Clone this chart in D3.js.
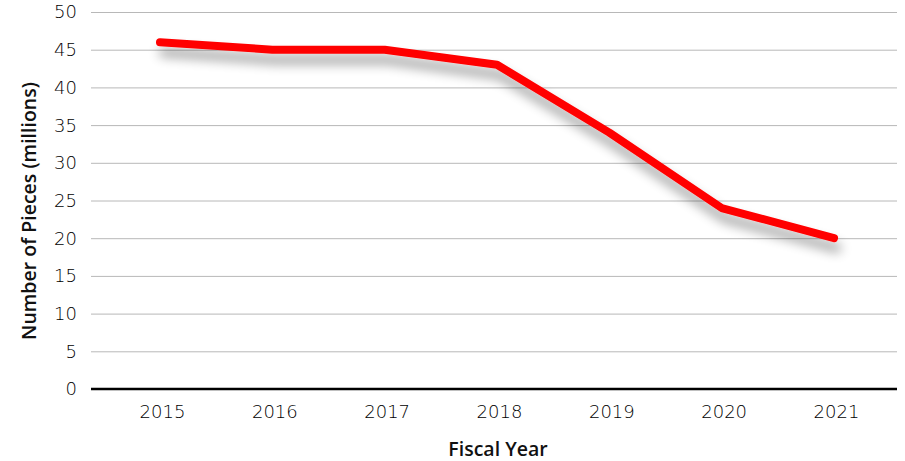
<!DOCTYPE html>
<html><head><meta charset="utf-8">
<script src="https://cdn.jsdelivr.net/npm/d3@7"></script>
<style>body{margin:0;background:#fff;} svg{display:block;}</style>
</head><body>
<svg id="c" width="905" height="461"></svg>
<script>
const years = ["2015","2016","2017","2018","2019","2020","2021"];
const pieces = [46, 45, 45, 43, 34, 24, 20];
const yTicks = [0,5,10,15,20,25,30,35,40,45,50];

const tickFont = "'DejaVu Sans', sans-serif";
const titleFont = "'Open Sans', sans-serif";

const svg = d3.select("#c");
const plotLeft = 91, plotRight = 897, plotTop = 12, plotBottom = 389;
const x = d3.scalePoint().domain(years).range([160, 834]);
const y = d3.scaleLinear().domain([0, 50]).range([plotBottom, plotTop]);

const defs = svg.append("defs");
const f = defs.append("filter").attr("id","sh").attr("x","-10%").attr("y","-30%").attr("width","130%").attr("height","200%");
f.append("feGaussianBlur").attr("in","SourceAlpha").attr("stdDeviation",6).attr("result","b");
f.append("feOffset").attr("in","b").attr("dx",3).attr("dy",10).attr("result","o");
f.append("feComponentTransfer").attr("in","o").attr("result","s").append("feFuncA").attr("type","linear").attr("slope",0.4);
const m = f.append("feMerge"); m.append("feMergeNode").attr("in","s"); m.append("feMergeNode").attr("in","SourceGraphic");

// gridlines
svg.append("g").selectAll("line").data(yTicks.filter(d=>d>0)).join("line")
  .attr("x1", plotLeft).attr("x2", plotRight).attr("y1", d=>y(d)+0.5).attr("y2", d=>y(d)+0.5)
  .attr("stroke", "#b8b8b8").attr("stroke-width", 1);

// y labels
svg.append("g").selectAll("text").data(yTicks).join("text")
  .attr("x", 77).attr("y", d=>y(d)).attr("dy","0.36em").attr("text-anchor","end")
  .attr("font-family", tickFont).attr("font-weight", 300)
  .attr("font-size", 18).attr("fill", "#000").text(d=>d);

// zero baseline
svg.append("line").attr("x1", plotLeft).attr("x2", plotRight).attr("y1", y(0)).attr("y2", y(0))
  .attr("stroke", "#000").attr("stroke-width", 2.5);

// x axis labels
const xAxis = d3.axisBottom(x).tickSize(0).tickPadding(16);
const gx = svg.append("g").attr("transform", `translate(2,${plotBottom})`).call(xAxis);
gx.select(".domain").remove();
gx.selectAll("text").attr("font-size", 18).attr("fill", "#000")
  .attr("font-family", tickFont).attr("font-weight", 300);

// line
const line = d3.line().x((d,i)=>x(years[i])).y(d=>y(d));
svg.append("path").datum(pieces).attr("d", line)
  .attr("fill","none").attr("stroke","#ff0000").attr("stroke-width",8)
  .attr("stroke-linecap","round").attr("stroke-linejoin","round").attr("filter","url(#sh)");

// axis titles
svg.append("text").attr("x", 498).attr("y", 456).attr("text-anchor","middle")
  .attr("font-family", titleFont).attr("font-size", 19.5).attr("font-weight", 600).attr("fill","#111").text("Fiscal Year");
svg.append("text").attr("transform", "translate(36,211) rotate(-90)").attr("text-anchor","middle")
  .attr("font-family", titleFont).attr("font-size", 19.5).attr("font-weight", 600).attr("fill","#111").text("Number of Pieces (millions)");
</script>
</body></html>
